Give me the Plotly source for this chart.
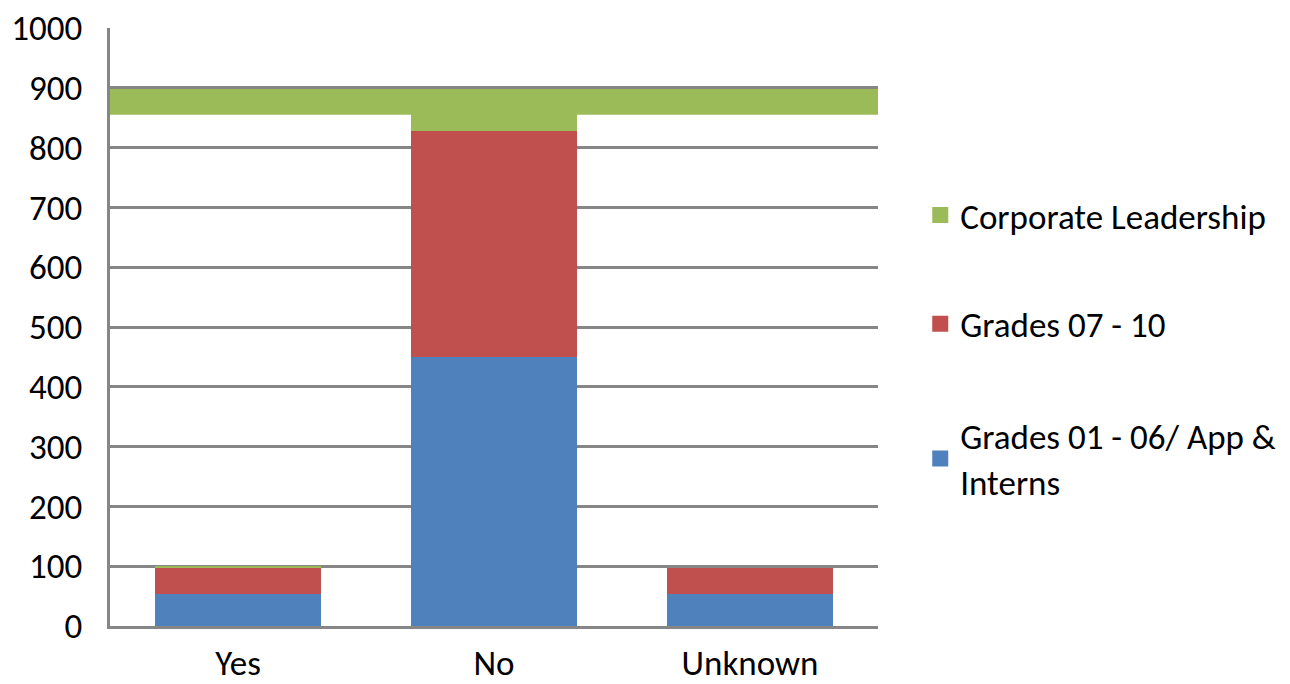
import plotly.graph_objects as go

categories = ["Yes", "No", "Unknown"]
grades_01_06 = [53, 450, 53]
grades_07_10 = [45, 378, 44]
corporate_leadership = [2, 70, 0]

series_names = ["Grades 01 - 06/ App &<br>Interns", "Grades 07 - 10", "Corporate Leadership"]
series_values = [grades_01_06, grades_07_10, corporate_leadership]
series_colors = ["#4F81BD", "#C0504D", "#9BBB59"]

# horizontal leadership band across the plot
band_range = [855, 898]

y_ticks = [0, 100, 200, 300, 400, 500, 600, 700, 800, 900, 1000]

FONT = "Carlito, Lato, 'Open Sans', sans-serif"
FS = 35
GRID = "#868686"

fig = go.Figure()
for name, vals, col in zip(series_names, series_values, series_colors):
    fig.add_trace(go.Bar(x=categories, y=vals, name=name, marker_color=col,
                         marker_line_width=0, showlegend=False))

# legend entries, one legend each so they can be spaced freely
legend_ids = ["legend3", "legend2", "legend"]
for name, col, lid in zip(series_names, series_colors, legend_ids):
    fig.add_trace(go.Scatter(x=[None], y=[None], mode="markers", name=name,
                             marker=dict(symbol="square", size=20, color=col),
                             showlegend=True, legend=lid))

fig.add_shape(type="rect", xref="paper", yref="y", x0=0, x1=1,
              y0=band_range[0], y1=band_range[1],
              fillcolor="#9BBB59", line_width=0, layer="between")

legend_style = dict(font=dict(family=FONT, size=FS, color="#000"),
                    bgcolor="rgba(0,0,0,0)", itemsizing="trace",
                    xanchor="left", yanchor="middle", x=1.055)

fig.update_layout(
    width=1290, height=684,
    margin=dict(l=110, r=412, t=28, b=58, autoexpand=False),
    paper_bgcolor="white", plot_bgcolor="white",
    barmode="stack", bargap=0.35,
    font=dict(family=FONT, size=FS, color="#000"),
    legend=dict(**legend_style, y=0.687),
    legend2=dict(**legend_style, y=0.505),
    legend3=dict(**legend_style, y=0.28),
)

fig.update_yaxes(range=[0, 1000], tickvals=y_ticks, showgrid=True,
                 gridcolor=GRID, gridwidth=2.5, showline=True, linecolor=GRID,
                 linewidth=2.5, ticks="", ticklabelstandoff=18, automargin=False,
                 tickfont=dict(family=FONT, size=FS, color="#000"), zeroline=False)
fig.update_xaxes(showline=True, linecolor=GRID, linewidth=2.5, ticks="",
                 ticklabelstandoff=4, automargin=False,
                 tickfont=dict(family=FONT, size=FS, color="#000"))

fig.write_html("out.html")
